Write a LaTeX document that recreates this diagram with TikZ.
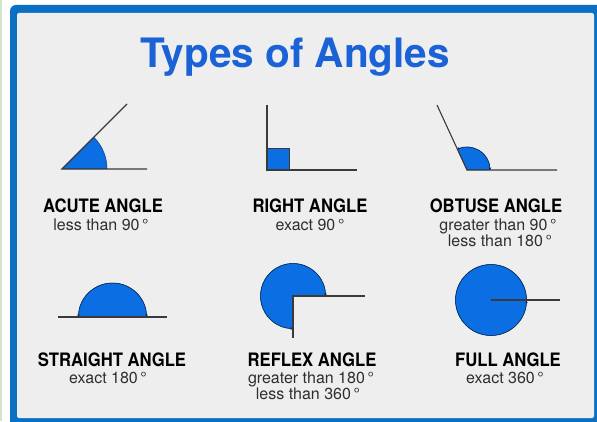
\documentclass[tikz,border=0pt]{standalone}
\usepackage{fontspec}
\setmainfont{TeX Gyre Heros}
\newfontfamily\lblfont[FakeStretch=0.9]{TeX Gyre Heros}
\usetikzlibrary{arrows.meta}
\definecolor{frameblue}{HTML}{0A70C4}
\definecolor{bggray}{HTML}{EEEEEE}
\definecolor{titleblue}{HTML}{1A62D6}
\definecolor{fillblue}{HTML}{0B6FE3}
\definecolor{raygray}{HTML}{3A3A3A}
\definecolor{stripgreen}{HTML}{CFE7C6}
\begin{document}
\begin{tikzpicture}[x=1pt,y=1pt,
  ray/.style={draw=raygray,line width=1.1pt},
  sector/.style={fill=fillblue,draw=fillblue!55!black,line width=0.5pt},
  arcmark/.style={draw=fillblue!40!black,line width=0.5pt},
  lbl/.style={anchor=base,inner sep=0pt,text=black,font=\lblfont\bfseries\fontsize{18.5}{20}\selectfont},
  sub/.style={anchor=base,inner sep=0pt,text=black!82,font=\fontsize{16}{18}\selectfont}
]
\useasboundingbox (0,0) rectangle (597,421);
\begin{scope}
\clip (0,0) rectangle (597,421);
\fill[white] (0,0) rectangle (597,421);
\fill[stripgreen] (0,0) rectangle (2,421);
\fill[frameblue,rounded corners=6pt] (10,-10) rectangle (607,416);
\fill[bggray,rounded corners=2pt] (17,3) rectangle (594,408);
\end{scope}

% title
\node[anchor=base,inner sep=0pt,text=titleblue,font=\bfseries\fontsize{40.5}{44}\selectfont] (title) at (295,353) {Types of Angles};

% acute
\coordinate (aV) at (62,252);
\coordinate (aH) at (147,252);
\coordinate (aR) at (127,317);
\filldraw[sector] (aV) -- ++(45,0) arc[start angle=0,end angle=45,radius=45] -- cycle;
\draw[ray] (aH) -- (aV) -- (aR);

% right
\coordinate (rV) at (267,251);
\coordinate (rU) at (267,316);
\coordinate (rH) at (357,251);
\filldraw[fill=fillblue,draw=raygray,line width=0.6pt] (rV) rectangle ++(22,22);
\draw[ray] (rU) -- (rV) -- (rH);

% obtuse
\coordinate (oV) at (467,251);
\coordinate (oH) at (557,251);
\coordinate (oR) at (437,316);
\filldraw[sector] (oV) -- ++(23,0) arc[start angle=0,end angle=114.8,radius=23] -- cycle;
\draw[arcmark,{Stealth[length=2.5pt,width=2.5pt]}-{Stealth[length=2.5pt,width=2.5pt]}] (oV) ++(23,0) arc[start angle=0,end angle=114.8,radius=23];
\draw[ray] (oH) -- (oV) -- (oR);

% straight
\coordinate (sC) at (112.5,104);
\coordinate (sL) at (58,104);
\coordinate (sR) at (167,104);
\filldraw[sector] (sC) -- ++(34,0) arc[start angle=0,end angle=180,radius=34] -- cycle;
\draw[arcmark,{Stealth[length=2.5pt,width=2.5pt]}-{Stealth[length=2.5pt,width=2.5pt]}] (sC) ++(34,0) arc[start angle=0,end angle=180,radius=34];
\draw[ray] (sL) -- (sR);

% reflex
\coordinate (xV) at (293,125);
\coordinate (xH) at (365,125);
\coordinate (xD) at (293,83);
\filldraw[sector] (xV) -- ++(32.5,0) arc[start angle=0,end angle=270,radius=32.5] -- cycle;
\draw[arcmark,{Stealth[length=2.5pt,width=2.5pt]}-{Stealth[length=2.5pt,width=2.5pt]}] (xV) ++(32.5,0) arc[start angle=0,end angle=270,radius=32.5];
\draw[ray] (xH) -- (xV) -- (xD);

% full
\coordinate (fC) at (491,121);
\coordinate (fH) at (560,121);
\filldraw[sector] (fC) circle[radius=35.5];
\draw[arcmark,-{Stealth[length=2.5pt,width=2.5pt]}] (fC) ++(35.5,0) arc[start angle=0,end angle=359,radius=35.5];
\draw[ray] (fC) -- (fH);

% labels
\node[lbl] (acuteL) at (103,208) {ACUTE ANGLE};
\node[sub] (acuteS) at (101,191) {less than 90\,°};
\node[lbl] (rightL) at (310,208) {RIGHT ANGLE};
\node[sub] (rightS) at (310,191) {exact 90\,°};
\node[lbl] (obtuseL) at (496,208) {OBTUSE ANGLE};
\node[sub] (obtuseS1) at (498,191) {greater than 90\,°};
\node[sub] (obtuseS2) at (500,175) {less than 180\,°};
\node[lbl] (straightL) at (112,55) {STRAIGHT ANGLE};
\node[sub] (straightS) at (108,38) {exact 180\,°};
\node[lbl] (reflexL) at (312,55) {REFLEX ANGLE};
\node[sub] (reflexS1) at (311,38) {greater than 180\,°};
\node[sub] (reflexS2) at (308,22) {less than 360\,°};
\node[lbl] (fullL) at (508,55) {FULL ANGLE};
\node[sub] (fullS) at (505,38) {exact 360\,°};
\end{tikzpicture}
\end{document}
